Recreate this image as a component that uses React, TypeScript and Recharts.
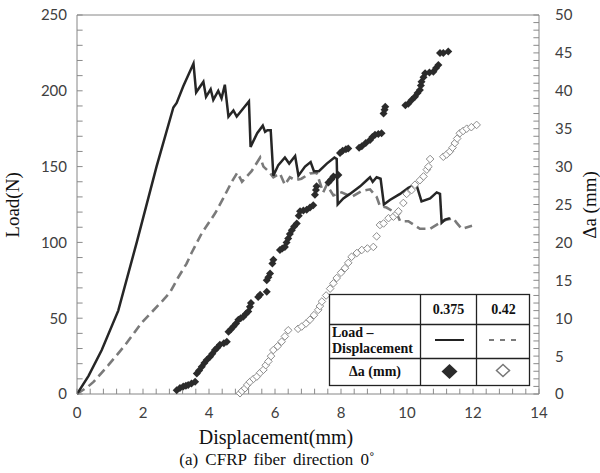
import React from "react";
import {
  ComposedChart,
  Line,
  Scatter,
  XAxis,
  YAxis,
  ReferenceLine,
} from "recharts";

// Load - displacement, specimen 0.375 (solid)
const solidX = [
  0, 0.35, 0.75, 1.25, 1.81, 2.41, 2.92, 3.02, 3.22, 3.53, 3.61, 3.83, 3.91,
  4.05, 4.13, 4.28, 4.38, 4.48, 4.59, 4.74, 4.84, 5.06, 5.21, 5.26, 5.46, 5.63,
  5.7, 5.77, 5.87, 5.95, 6.1, 6.3, 6.43, 6.61, 6.71, 6.91, 7.08, 7.18, 7.33,
  7.57, 7.8, 7.87, 7.9, 8.07, 8.27, 8.58, 8.78, 8.88, 8.96, 9.08, 9.2, 9.3,
  9.48, 9.79, 10.04, 10.24, 10.3, 10.44, 10.7, 10.9, 11.0, 11.05, 11.15, 11.3,
];
const solidLoad = [
  0, 12, 29, 55, 100, 150, 189, 192, 203, 218, 199, 206, 196, 201, 194, 200,
  195, 204, 183, 187, 183, 189, 193, 163, 172, 177, 173, 174, 174, 144, 151,
  156, 152, 157, 144, 150, 153, 147, 147, 152, 156, 155, 125, 129, 132, 137,
  141, 143, 140, 143, 142, 125, 128, 132, 136, 138, 137, 127, 129, 133, 132,
  113, 115, 116,
];

// Load - displacement, specimen 0.42 (dashed)
const dashX = [
  0, 0.34, 0.5, 0.95, 1.45, 1.96, 2.57, 2.82, 3.07, 3.32, 3.47, 3.78, 4.18,
  4.43, 4.69, 4.86, 5.0, 5.29, 5.55, 5.65, 5.8, 5.95, 6.15, 6.3, 6.45, 6.62,
  6.8, 7.06, 7.26, 7.46, 7.57, 7.77, 8.02, 8.32, 8.63, 8.88, 9.08, 9.18, 9.38,
  9.69, 9.79, 10.04, 10.39, 10.7, 11.0, 11.2, 11.4, 11.5, 11.66, 11.97,
];
const dashLoad = [
  0, 5, 8, 19, 32, 47, 61, 67, 77, 86, 93, 106, 119, 129, 140, 146, 140, 147,
  156, 150, 147, 143, 145.5, 138, 143, 141, 142, 145.5, 146, 133, 138, 131,
  133, 130, 134, 135, 130, 124, 123, 119, 114, 114, 109, 109, 113, 115, 116,
  113, 109, 111,
];

// Delta a (mm), specimen 0.375 (filled diamonds)
const fillX = [
  3.02, 3.12, 3.22, 3.3, 3.37, 3.47, 3.58, 3.63, 3.7, 3.78, 3.86, 3.93, 4.03,
  4.1, 4.18, 4.25, 4.33, 4.45, 4.54, 4.59, 4.66, 4.74, 4.82, 4.89, 4.96, 5.04,
  5.12, 5.19, 5.24, 5.27, 5.49, 5.55, 5.75, 5.75, 5.8, 5.85, 5.92, 5.95, 6.15,
  6.22, 6.3, 6.35, 6.4, 6.45, 6.51, 6.58, 6.66, 6.72, 6.76, 6.86, 6.96, 7.06,
  7.16, 7.21, 7.24, 7.26, 7.62, 7.7, 7.77, 7.92, 7.97, 8.05, 8.15, 8.22, 8.55,
  8.63, 8.75, 8.88, 8.95, 9.03, 9.13, 9.23, 9.29, 9.32, 9.34, 9.95, 10.04,
  10.14, 10.24, 10.32, 10.39, 10.42, 10.44, 10.5, 10.55, 10.68, 10.8, 10.88,
  10.95, 11.0, 11.1, 11.25,
];
const fillDa = [
  0.5, 0.8, 1.0, 1.1, 1.2, 1.4, 1.6, 2.7, 3.1, 3.6, 4.1, 4.5, 4.9, 5.3, 5.8,
  6.1, 6.5, 6.7, 6.9, 8.2, 8.5, 8.9, 9.3, 9.8, 10.0, 10.2, 10.6, 10.9, 11.5,
  12.0, 12.8, 13.1, 13.5, 15.0, 15.4, 15.9, 17.2, 17.7, 19.0, 19.2, 19.4, 20.0,
  20.5, 21.1, 21.6, 22.1, 22.5, 23.5, 24.1, 24.2, 24.3, 24.6, 24.9, 26.3, 26.9,
  27.4, 27.9, 28.3, 28.7, 28.9, 31.8, 32.1, 32.3, 32.4, 32.5, 32.7, 33.1, 33.5,
  33.9, 34.2, 34.3, 34.4, 37.0, 37.5, 37.9, 38.1, 38.3, 38.8, 39.2, 39.7, 40.1,
  40.7, 41.2, 41.8, 42.3, 42.4, 42.5, 43.0, 43.4, 45.0, 45.0, 45.2,
];

// Delta a (mm), specimen 0.42 (open diamonds)
const openX = [
  4.94, 5.0, 5.09, 5.16, 5.24, 5.35, 5.45, 5.55, 5.65, 5.72, 5.8, 5.88, 5.95,
  6.08, 6.2, 6.3, 6.4, 6.7, 6.81, 6.94, 7.06, 7.18, 7.31, 7.36, 7.42, 7.55,
  7.67, 7.77, 7.87, 8.0, 8.12, 8.22, 8.32, 8.48, 8.63, 8.8, 8.98, 9.08, 9.18,
  9.29, 9.44, 9.59, 9.69, 9.74, 9.89, 9.99, 10.14, 10.24, 10.39, 10.5, 10.6,
  10.65, 10.7, 11.1, 11.2, 11.3, 11.38, 11.45, 11.52, 11.6, 11.7, 11.81, 11.95,
  12.11,
];
const openDa = [
  0.1, 0.4, 0.75, 1.2, 1.6, 2.0, 2.3, 2.8, 3.2, 3.8, 4.3, 5.0, 5.8, 6.3, 6.9,
  7.6, 8.4, 8.6, 8.9, 9.3, 9.8, 10.4, 11.1, 11.6, 12.2, 13.0, 13.9, 14.6, 15.3,
  16.0, 16.6, 17.3, 18.1, 18.6, 19.0, 19.2, 19.4, 20.8, 22.3, 22.5, 23.2, 23.4,
  23.8, 24.1, 25.2, 26.4, 26.9, 27.6, 28.2, 28.7, 29.6, 30.0, 31.0, 31.3, 31.6,
  32.0, 32.5, 33.1, 33.7, 34.4, 34.7, 35.0, 35.2, 35.5,
];

// axis ticks: labelled values and the minor tick marks in between
const xMajor = [0, 2, 4, 6, 8, 10, 12, 14];
const loadMajor = [0, 50, 100, 150, 200, 250];
const daMajor = [0, 5, 10, 15, 20, 25, 30, 35, 40, 45, 50];
const xMinor = Array.from({ length: 36 }, (_, i) => Math.round(i * 4) / 10);
const loadMinor = Array.from({ length: 26 }, (_, i) => i * 10);
const daMinor = Array.from({ length: 51 }, (_, i) => i);

const zip = (xs: number[], ys: number[]) => xs.map((x, i) => ({ x, y: ys[i] }));
const solidData = zip(solidX, solidLoad);
const dashData = zip(dashX, dashLoad);
const fillData = zip(fillX, fillDa);
const openData = zip(openX, openDa);

const AXIS = "#868686";
const TICK_COLOR = "#8a8a8a";
const TICK_FONT = "Lato, 'Liberation Sans', sans-serif";
const SERIF = "'Liberation Serif', 'DejaVu Serif', serif";

const isMajor = (v: number, list: number[]) =>
  list.some((m) => Math.abs(m - v) < 1e-6);

const PLOT_LEFT = 77;
const PLOT_RIGHT = 539;
const PLOT_BOTTOM = 394;

const LeftTick = (props: any) => {
  const { y, payload } = props;
  if (!isMajor(payload.value, loadMajor)) return <g />;
  return (
    <text x={PLOT_LEFT - 10} y={y} dy="0.36em" textAnchor="end" fontSize={15}
      fontFamily={TICK_FONT} fill="#404040">
      {payload.value}
    </text>
  );
};

const RightTick = (props: any) => {
  const { y, payload } = props;
  if (!isMajor(payload.value, daMajor)) return <g />;
  return (
    <text x={PLOT_RIGHT + 16} y={y} dy="0.36em" textAnchor="start" fontSize={15}
      fontFamily={TICK_FONT} fill="#404040">
      {payload.value}
    </text>
  );
};

const BottomTick = (props: any) => {
  const { x, payload } = props;
  if (!isMajor(payload.value, xMajor)) return <g />;
  return (
    <text x={x} y={PLOT_BOTTOM + 24} textAnchor="middle" fontSize={15}
      fontFamily={TICK_FONT} fill="#404040">
      {Math.round(payload.value)}
    </text>
  );
};

const FilledDiamond = (props: any) => {
  const { cx, cy } = props;
  const w = 4, h = 4;
  return (
    <polygon
      points={`${cx},${cy - h} ${cx + w},${cy} ${cx},${cy + h} ${cx - w},${cy}`}
      fill="#2b2b2b"
    />
  );
};

const OpenDiamond = (props: any) => {
  const { cx, cy } = props;
  const w = 3.8, h = 3.8;
  return (
    <polygon
      points={`${cx},${cy - h} ${cx + w},${cy} ${cx},${cy + h} ${cx - w},${cy}`}
      fill="#fff"
      stroke="#8c8c8c"
      strokeWidth={1}
    />
  );
};

function LegendTable() {
  const txt = { fontFamily: SERIF, fontWeight: 700, fontSize: 14, fill: "#111" };
  return (
    <svg
      width={203}
      height={94}
      style={{ position: "absolute", left: 328, top: 293 }}
    >
      <rect x={1.5} y={1.5} width={200} height={91} fill="#fff" stroke="#222" strokeWidth={1.3} />
      <line x1={92.5} x2={92.5} y1={1} y2={93} stroke="#222" strokeWidth={1.3} />
      <line x1={148.5} x2={148.5} y1={1} y2={93} stroke="#222" strokeWidth={1.3} />
      <line x1={1} x2={202} y1={31.5} y2={31.5} stroke="#222" strokeWidth={1.3} />
      <line x1={1} x2={202} y1={65.5} y2={65.5} stroke="#222" strokeWidth={1.3} />
      <text x={120.5} y={21} textAnchor="middle" {...txt}>0.375</text>
      <text x={175.5} y={21} textAnchor="middle" {...txt}>0.42</text>
      <text x={4} y={44} {...txt}>Load –</text>
      <text x={4} y={60} {...txt}>Displacement</text>
      <text x={47} y={83} textAnchor="middle" {...txt}>Δa (mm)</text>
      <line x1={107} x2={136} y1={47} y2={47} stroke="#222" strokeWidth={2} />
      <line x1={161} x2={191} y1={47} y2={47} stroke="#7a7a7a" strokeWidth={2}
        strokeDasharray="5 6" />
      <polygon points="121.5,71 129.5,78.5 121.5,86 113.5,78.5" fill="#2b2b2b" />
      <polygon points="175,71.5 181.5,77.5 175,83.5 168.5,77.5" fill="#fff"
        stroke="#777" strokeWidth={1.5} />
    </svg>
  );
}

export default function App() {
  return (
    <div
      style={{
        position: "absolute",
        left: 0,
        top: 0,
        width: 600,
        height: 473,
        background: "#fff",
        overflow: "hidden",
      }}
    >
      <ComposedChart
        width={600}
        height={473}
        margin={{ top: 15, right: 6, bottom: 29, left: 17 }}
      >
        <XAxis
          xAxisId="d"
          dataKey="x"
          type="number"
          domain={[0, 14]}
          ticks={xMinor}
          interval={0}
          height={50}
          tickLine={false}
          tick={(p: any) => <BottomTick {...p} />}
          stroke={AXIS}
          allowDataOverflow
        />
        <YAxis
          yAxisId="load"
          type="number"
          domain={[0, 250]}
          ticks={loadMinor}
          interval={0}
          width={60}
          tickLine={false}
          tick={(p: any) => <LeftTick {...p} />}
          stroke={AXIS}
        />
        <YAxis
          yAxisId="da"
          orientation="right"
          type="number"
          domain={[0, 50]}
          ticks={daMinor}
          interval={0}
          width={55}
          tickLine={false}
          tick={(p: any) => <RightTick {...p} />}
          stroke={AXIS}
        />
        <ReferenceLine xAxisId="d" yAxisId="load" y={250} stroke={AXIS} />

        {/* inward tick marks */}
        {loadMinor.map((v) => (
          <ReferenceLine
            key={`lt${v}`}
            xAxisId="d"
            yAxisId="load"
            segment={[{ x: 0, y: v }, { x: 0.17, y: v }]}
            stroke={TICK_COLOR}
          />
        ))}
        {daMinor.map((v) => (
          <ReferenceLine
            key={`rt${v}`}
            xAxisId="d"
            yAxisId="da"
            segment={[{ x: 13.83, y: v }, { x: 14, y: v }]}
            stroke={TICK_COLOR}
          />
        ))}
        {xMinor.map((v) => (
          <ReferenceLine
            key={`bt${v}`}
            xAxisId="d"
            yAxisId="load"
            segment={[{ x: v, y: 0 }, { x: v, y: 3.5 }]}
            stroke={TICK_COLOR}
          />
        ))}

        <Line
          xAxisId="d"
          yAxisId="load"
          data={dashData}
          dataKey="y"
          type="linear"
          stroke="#7a7a7a"
          strokeWidth={2.6}
          strokeDasharray="9 5"
          dot={false}
          isAnimationActive={false}
        />
        <Line
          xAxisId="d"
          yAxisId="load"
          data={solidData}
          dataKey="y"
          type="linear"
          stroke="#262626"
          strokeWidth={2.5}
          dot={false}
          isAnimationActive={false}
        />
        <Scatter
          xAxisId="d"
          yAxisId="da"
          data={openData}
          dataKey="y"
          shape={<OpenDiamond />}
          isAnimationActive={false}
        />
        <Scatter
          xAxisId="d"
          yAxisId="da"
          data={fillData}
          dataKey="y"
          shape={<FilledDiamond />}
          isAnimationActive={false}
        />
      </ComposedChart>

      <LegendTable />

      <div
        style={{
          position: "absolute",
          left: 13,
          top: 205,
          transform: "translate(-50%, -50%) rotate(-90deg)",
          fontFamily: SERIF,
          fontSize: 19,
          color: "#111",
          whiteSpace: "nowrap",
        }}
      >
        Load(N)
      </div>
      <div
        style={{
          position: "absolute",
          left: 590,
          top: 205,
          transform: "translate(-50%, -50%) rotate(-90deg)",
          fontFamily: SERIF,
          fontSize: 19,
          color: "#111",
          whiteSpace: "nowrap",
        }}
      >
        Δa (mm)
      </div>
      <div
        style={{
          position: "absolute",
          left: 276,
          top: 437,
          transform: "translate(-50%, -50%)",
          fontFamily: SERIF,
          fontSize: 20,
          color: "#111",
          whiteSpace: "nowrap",
        }}
      >
        Displacement(mm)
      </div>
      <div
        style={{
          position: "absolute",
          left: 277,
          top: 460,
          transform: "translate(-50%, -50%)",
          fontFamily: SERIF,
          fontSize: 17,
          color: "#111",
          whiteSpace: "nowrap",
          wordSpacing: 3,
        }}
      >
        (a) CFRP fiber direction 0˚
      </div>
    </div>
  );
}
